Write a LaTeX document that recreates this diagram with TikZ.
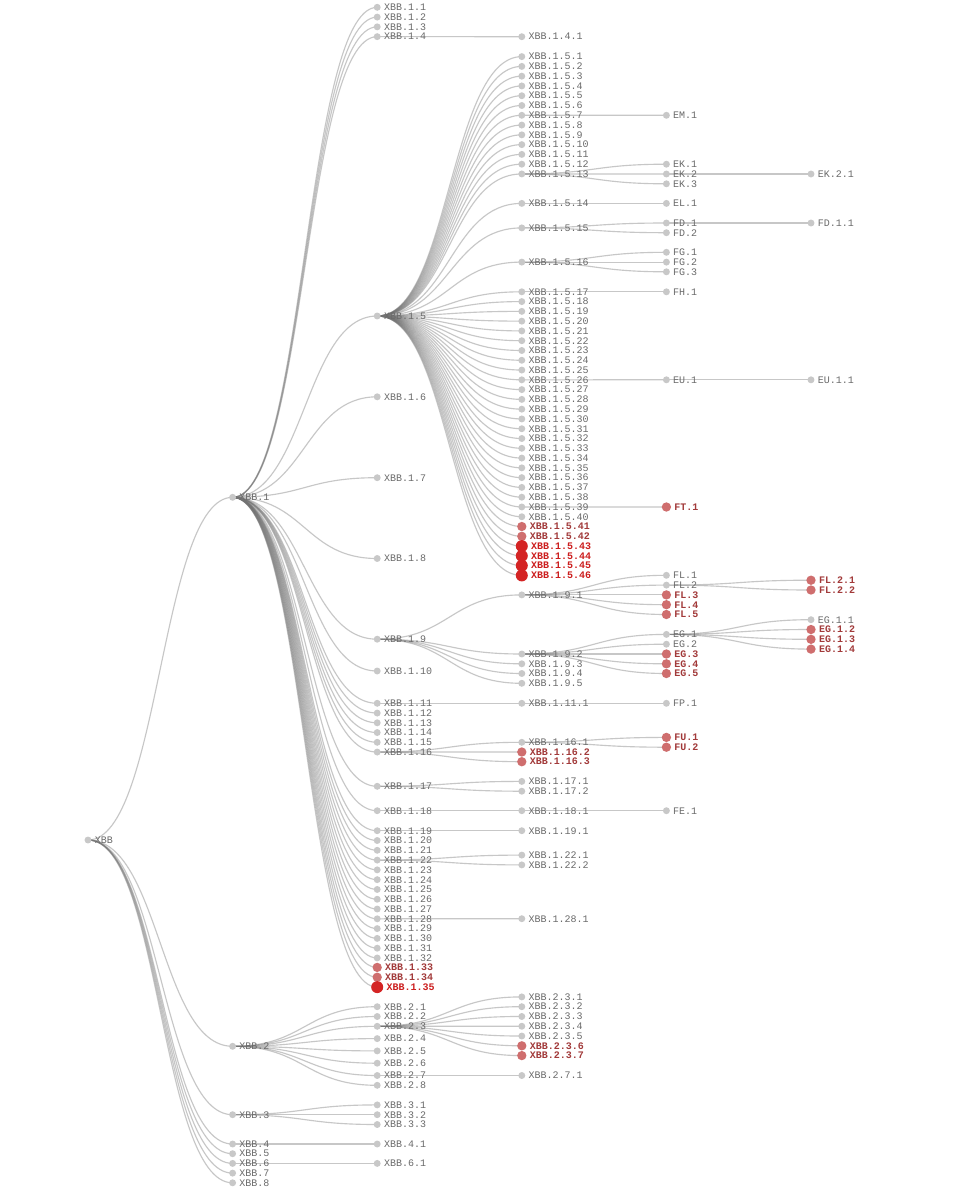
\documentclass[tikz,border=0pt]{standalone}
\usepackage{fontspec}
\setmonofont{Liberation Mono}
\usetikzlibrary{calc}
\definecolor{ngray}{HTML}{C8C8C8}
\definecolor{tgray}{HTML}{6A6A6A}
\definecolor{lred}{HTML}{CF6E6E}
\definecolor{tlred}{HTML}{A23A3A}
\definecolor{bred}{HTML}{D42424}
\definecolor{tbred}{HTML}{CC1E1E}
\pgfdeclarelayer{links}
\pgfsetlayers{links,main}
\tikzset{
  gn/.style={circle,fill=ngray,inner sep=0pt,minimum size=5.2pt},
  ln/.style={circle,fill=lred,inner sep=0pt,minimum size=7pt},
  bn/.style={circle,fill=bred,inner sep=0pt,minimum size=9pt},
  gnl/.style={anchor=west,inner sep=0pt,text=tgray,font=\ttfamily\fontsize{7.5}{9}\selectfont},
  lnl/.style={gnl,text=tlred,font=\ttfamily\bfseries\fontsize{7.5}{9}\selectfont},
  bnl/.style={gnl,text=tbred,font=\ttfamily\bfseries\fontsize{7.5}{9}\selectfont},
  lnk/.style={draw=black!55,draw opacity=0.4,line width=0.85pt}
}
\newcommand\tn[5]{\node[#1] (#2) at ({88+144.6*(#3)},{#4}) {}; \node[#1l] (#2-t) at ([xshift=2.1pt]#2.east) {#5};}
\newcommand\lk[2]{\draw[lnk] (#1.center) .. controls ($(#1.center)!.5!(#2.center |- #1.center)$) and ($(#2.center)!.5!(#1.center |- #2.center)$) .. (#2.center);}
\newcommand\lks[2]{\foreach \ch in {#2} {\lk{#1}{\ch}}}
\begin{document}
\begin{tikzpicture}[x=0.75pt,y=-0.75pt]
\useasboundingbox (0,0) rectangle (954,1200);
% depth 0
\tn{gn}{xr}{0}{840}{XBB}
% depth 1
\tn{gn}{x1}{1}{497.3}{XBB.1}
\tn{gn}{x2}{1}{1046.3}{XBB.2}
\tn{gn}{x3}{1}{1114.7}{XBB.3}
\foreach \k/\y in {4/1144,5/1153.7,6/1163.4,7/1173.1,8/1182.8} {\tn{gn}{x\k}{1}{\y}{XBB.\k}}
% depth 2
\foreach \k in {1,...,4} {\tn{gn}{x1-\k}{2}{7.3+9.78*(\k-1)}{XBB.1.\k}}
\foreach \k/\y in {5/316,6/396.8,7/477.7,8/558.5,9/639.2,10/671} {\tn{gn}{x1-\k}{2}{\y}{XBB.1.\k}}
\foreach \k in {11,...,16} {\tn{gn}{x1-\k}{2}{703.3+9.75*(\k-11)}{XBB.1.\k}}
\tn{gn}{x1-17}{2}{786.3}{XBB.1.17}
\tn{gn}{x1-18}{2}{810.7}{XBB.1.18}
\foreach \k in {19,...,32} {\tn{gn}{x1-\k}{2}{830.7+9.79*(\k-19)}{XBB.1.\k}}
\tn{ln}{x1-33}{2}{967.4}{XBB.1.33}
\tn{ln}{x1-34}{2}{977.2}{XBB.1.34}
\tn{bn}{x1-35}{2}{987.1}{XBB.1.35}
\foreach \k/\y in {1/1006.7,2/1016.5,3/1026.3,4/1038.6,5/1050.9,6/1063.2,7/1075.5,8/1085.3} {\tn{gn}{x2-\k}{2}{\y}{XBB.2.\k}}
\foreach \k/\y in {1/1104.9,2/1114.7,3/1124.5} {\tn{gn}{x3-\k}{2}{\y}{XBB.3.\k}}
\tn{gn}{x4-1}{2}{1144}{XBB.4.1}
\tn{gn}{x6-1}{2}{1163.4}{XBB.6.1}
% depth 3
\tn{gn}{x1-4-1}{3}{36.7}{XBB.1.4.1}
\foreach \k in {1,...,13} {\tn{gn}{x1-5-\k}{3}{56.6+9.78*(\k-1)}{XBB.1.5.\k}}
\tn{gn}{x1-5-14}{3}{203.4}{XBB.1.5.14}
\tn{gn}{x1-5-15}{3}{227.9}{XBB.1.5.15}
\tn{gn}{x1-5-16}{3}{262.1}{XBB.1.5.16}
\foreach \k in {17,...,40} {\tn{gn}{x1-5-\k}{3}{291.8+9.78*(\k-17)}{XBB.1.5.\k}}
\foreach \k in {41,42} {\tn{ln}{x1-5-\k}{3}{291.8+9.78*(\k-17)}{XBB.1.5.\k}}
\foreach \k in {43,...,46} {\tn{bn}{x1-5-\k}{3}{291.8+9.78*(\k-17)}{XBB.1.5.\k}}
\tn{gn}{x1-9-1}{3}{594.9}{XBB.1.9.1}
\foreach \k/\y in {2/654.0,3/663.8,4/673.5,5/683.3} {\tn{gn}{x1-9-\k}{3}{\y}{XBB.1.9.\k}}
\tn{gn}{x1-11-1}{3}{703.3}{XBB.1.11.1}
\tn{gn}{x1-16-1}{3}{742.3}{XBB.1.16.1}
\tn{ln}{x1-16-2}{3}{752.0}{XBB.1.16.2}
\tn{ln}{x1-16-3}{3}{761.7}{XBB.1.16.3}
\tn{gn}{x1-17-1}{3}{781.4}{XBB.1.17.1}
\tn{gn}{x1-17-2}{3}{791.2}{XBB.1.17.2}
\tn{gn}{x1-18-1}{3}{810.7}{XBB.1.18.1}
\tn{gn}{x1-19-1}{3}{830.7}{XBB.1.19.1}
\tn{gn}{x1-22-1}{3}{855.1}{XBB.1.22.1}
\tn{gn}{x1-22-2}{3}{864.9}{XBB.1.22.2}
\tn{gn}{x1-28-1}{3}{918.7}{XBB.1.28.1}
\foreach \k in {1,...,5} {\tn{gn}{x2-3-\k}{3}{996.9+9.78*(\k-1)}{XBB.2.3.\k}}
\foreach \k in {6,7} {\tn{ln}{x2-3-\k}{3}{996.9+9.78*(\k-1)}{XBB.2.3.\k}}
\tn{gn}{x2-7-1}{3}{1075.5}{XBB.2.7.1}
% depth 4
\tn{gn}{em1}{4}{115.3}{EM.1}
\tn{gn}{ek1}{4}{164.2}{EK.1}
\tn{gn}{ek2}{4}{174.0}{EK.2}
\tn{gn}{ek3}{4}{183.8}{EK.3}
\tn{gn}{el1}{4}{203.4}{EL.1}
\tn{gn}{fd1}{4}{223.0}{FD.1}
\tn{gn}{fd2}{4}{232.7}{FD.2}
\tn{gn}{fg1}{4}{252.3}{FG.1}
\tn{gn}{fg2}{4}{262.1}{FG.2}
\tn{gn}{fg3}{4}{271.8}{FG.3}
\tn{gn}{fh1}{4}{291.8}{FH.1}
\tn{gn}{eu1}{4}{379.8}{EU.1}
\tn{ln}{ft1}{4}{507.0}{FT.1}
\tn{gn}{fl1}{4}{575.3}{FL.1}
\tn{gn}{fl2}{4}{585.1}{FL.2}
\tn{ln}{fl3}{4}{594.9}{FL.3}
\tn{ln}{fl4}{4}{604.7}{FL.4}
\tn{ln}{fl5}{4}{614.5}{FL.5}
\tn{gn}{eg1}{4}{634.4}{EG.1}
\tn{gn}{eg2}{4}{644.2}{EG.2}
\tn{ln}{eg3}{4}{654.0}{EG.3}
\tn{ln}{eg4}{4}{663.8}{EG.4}
\tn{ln}{eg5}{4}{673.5}{EG.5}
\tn{gn}{fp1}{4}{703.3}{FP.1}
\tn{ln}{fu1}{4}{737.4}{FU.1}
\tn{ln}{fu2}{4}{747.2}{FU.2}
\tn{gn}{fe1}{4}{810.7}{FE.1}
% depth 5
\tn{gn}{ek21}{5}{174.0}{EK.2.1}
\tn{gn}{fd11}{5}{223.0}{FD.1.1}
\tn{gn}{eu11}{5}{379.8}{EU.1.1}
\tn{ln}{fl21}{5}{580.2}{FL.2.1}
\tn{ln}{fl22}{5}{590.0}{FL.2.2}
\tn{gn}{eg11}{5}{619.7}{EG.1.1}
\tn{ln}{eg12}{5}{629.5}{EG.1.2}
\tn{ln}{eg13}{5}{639.3}{EG.1.3}
\tn{ln}{eg14}{5}{649.1}{EG.1.4}
% links
\begin{pgfonlayer}{links}
\fill[white] (0,0) rectangle (954,1200);
\foreach \k in {1,...,8} {\lk{xr}{x\k}}
\foreach \k in {1,...,35} {\lk{x1}{x1-\k}}
\foreach \k in {1,...,8} {\lk{x2}{x2-\k}}
\foreach \k in {1,...,3} {\lk{x3}{x3-\k}}
\lk{x4}{x4-1}
\lk{x6}{x6-1}
\lk{x1-4}{x1-4-1}
\foreach \k in {1,...,46} {\lk{x1-5}{x1-5-\k}}
\foreach \k in {1,...,5} {\lk{x1-9}{x1-9-\k}}
\lk{x1-11}{x1-11-1}
\lks{x1-16}{x1-16-1,x1-16-2,x1-16-3}
\lks{x1-17}{x1-17-1,x1-17-2}
\lk{x1-18}{x1-18-1}
\lk{x1-19}{x1-19-1}
\lks{x1-22}{x1-22-1,x1-22-2}
\lk{x1-28}{x1-28-1}
\foreach \k in {1,...,7} {\lk{x2-3}{x2-3-\k}}
\lk{x2-7}{x2-7-1}
\lk{x1-5-7}{em1}
\lks{x1-5-13}{ek1,ek2,ek3}
\lk{x1-5-14}{el1}
\lks{x1-5-15}{fd1,fd2}
\lks{x1-5-16}{fg1,fg2,fg3}
\lk{x1-5-17}{fh1}
\lk{x1-5-26}{eu1}
\lk{x1-5-39}{ft1}
\lks{x1-9-1}{fl1,fl2,fl3,fl4,fl5}
\lks{x1-9-2}{eg1,eg2,eg3,eg4,eg5}
\lk{x1-11-1}{fp1}
\lks{x1-16-1}{fu1,fu2}
\lk{x1-18-1}{fe1}
\lk{ek2}{ek21}
\lk{fd1}{fd11}
\lk{eu1}{eu11}
\lks{fl2}{fl21,fl22}
\lks{eg1}{eg11,eg12,eg13,eg14}
\end{pgfonlayer}
\end{tikzpicture}
\end{document}
